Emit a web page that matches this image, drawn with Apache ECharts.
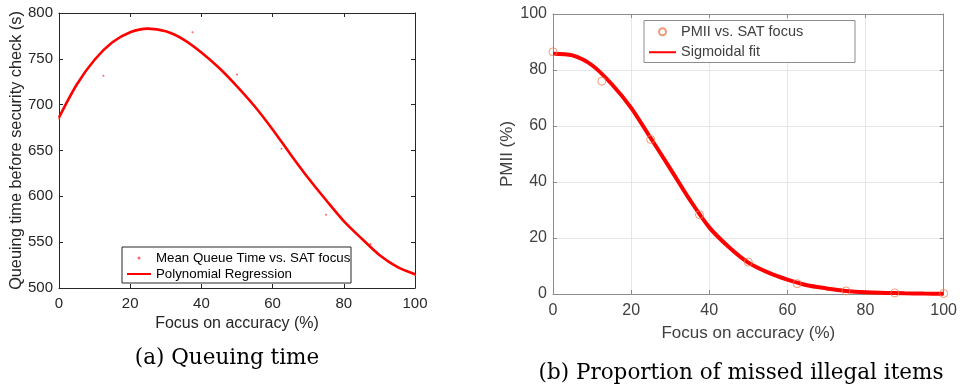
<!DOCTYPE html>
<html>
<head>
<meta charset="utf-8">
<script src="https://cdn.jsdelivr.net/npm/echarts@6/dist/echarts.min.js"></script>
<style>
  html, body { margin: 0; padding: 0; background: #fff; }
  #chart { width: 960px; height: 387px; }
</style>
</head>
<body>
<div id="chart"></div>
<script>
// focus on accuracy (%) for the measured points and the fitted curves
const focusPoints = [0, 12.5, 25, 37.5, 50, 62.5, 75, 87.5, 100];
const focusFit = [0, 5, 10, 15, 20, 25, 30, 35, 40, 45, 50, 55, 60, 65, 70, 75, 80, 85, 90, 95, 100];

// (a) queuing time (s)
const queueMean = [685, 731.5, 783.5, 779, 733, 652, 580, 548, 514];
const queueFit = [686, 722, 749, 768, 779, 783, 780, 771, 757, 740, 720, 698, 673, 646, 620, 596, 573, 554, 536, 523, 515];

// (b) PMII (%)
const pmiiPoints = [86.5, 76, 55.2, 28.3, 11.4, 3.7, 1.1, 0.4, 0.2];
const pmiiFit = [85.8, 85.2, 81.7, 75, 66.5, 55.7, 44.8, 33.7, 23.8, 16.8, 11.2, 7.7, 5.1, 3.1, 2, 1.1, 0.6, 0.4, 0.25, 0.15, 0.1];

const zip = (xs, ys) => xs.map((x, i) => [x, ys[i]]);

const chart = echarts.init(document.getElementById('chart'));

const darkA = '#262626';
const frameB = '#8c8c8c';
const textB = '#404040';

// top / right frame axes (ticks only, no labels)
function frameAxis(pos, gridIndex, min, max, interval, color) {
  return {
    type: 'value', position: pos, gridIndex, min, max, interval,
    axisLine: { show: true, onZero: false, lineStyle: { color, width: 1 } },
    axisTick: { show: true, inside: true, length: 4, lineStyle: { color } },
    axisLabel: { show: false },
    splitLine: { show: false }
  };
}

const option = {
  backgroundColor: '#fff',
  animation: false,
  grid: [
    { left: 59, right: 545, top: 13, bottom: 99 },
    { left: 553, right: 14, top: 14, bottom: 93 }
  ],
  xAxis: [
    {
      type: 'value', gridIndex: 0, min: 0, max: 100, interval: 20,
      name: 'Focus on accuracy (%)', nameLocation: 'middle', nameGap: 26,
      nameTextStyle: { fontFamily: 'Liberation Sans', fontSize: 16, color: darkA },
      axisLine: { onZero: false, lineStyle: { color: darkA } },
      axisTick: { inside: true, length: 4, lineStyle: { color: darkA } },
      axisLabel: { margin: 8, fontFamily: 'Liberation Sans', fontSize: 15, color: darkA },
      splitLine: { show: false }
    },
    frameAxis('top', 0, 0, 100, 20, darkA),
    {
      type: 'value', gridIndex: 1, min: 0, max: 100, interval: 20,
      name: 'Focus on accuracy (%)', nameLocation: 'middle', nameGap: 31,
      nameTextStyle: { fontFamily: 'Liberation Sans', fontSize: 17, color: textB },
      axisLine: { onZero: false, lineStyle: { color: frameB } },
      axisTick: { inside: true, length: 4, lineStyle: { color: frameB } },
      axisLabel: { margin: 9, fontFamily: 'Liberation Sans', fontSize: 16, color: textB },
      splitLine: { show: true, lineStyle: { color: '#e6e6e6' } }
    },
    frameAxis('top', 1, 0, 100, 20, frameB)
  ],
  yAxis: [
    {
      type: 'value', gridIndex: 0, min: 500, max: 800, interval: 50,
      name: 'Queuing time before security check (s)', nameLocation: 'middle', nameGap: 33,
      nameTextStyle: { fontFamily: 'Liberation Sans', fontSize: 16.3, color: darkA },
      axisLine: { show: true, onZero: false, lineStyle: { color: darkA } },
      axisTick: { show: true, inside: true, length: 4, lineStyle: { color: darkA } },
      axisLabel: { margin: 6, fontFamily: 'Liberation Sans', fontSize: 15, color: darkA },
      splitLine: { show: false }
    },
    frameAxis('right', 0, 500, 800, 50, darkA),
    {
      type: 'value', gridIndex: 1, min: 0, max: 100, interval: 20,
      name: 'PMII (%)', nameLocation: 'middle', nameGap: 37,
      nameTextStyle: { fontFamily: 'Liberation Sans', fontSize: 17, color: textB },
      axisLine: { show: true, onZero: false, lineStyle: { color: frameB } },
      axisTick: { show: true, inside: true, length: 4, lineStyle: { color: frameB } },
      axisLabel: { margin: 6, fontFamily: 'Liberation Sans', fontSize: 16, color: textB },
      splitLine: { show: true, lineStyle: { color: '#e6e6e6' } }
    },
    frameAxis('right', 1, 0, 100, 20, frameB)
  ],
  legend: [
    {
      orient: 'vertical', left: 126, top: 250, z: 10, padding: 0,
      itemWidth: 24, itemHeight: 3, itemGap: 0,
      textStyle: { fontFamily: 'Liberation Sans', fontSize: 13.3, lineHeight: 16, color: '#000' },
      data: [
        'Mean Queue Time vs. SAT focus',
        { name: 'Polynomial Regression', itemStyle: { opacity: 0 } }
      ]
    },
    {
      orient: 'vertical', left: 648, top: 21.5, z: 10, padding: 0,
      itemWidth: 27, itemHeight: 7, itemGap: 0,
      textStyle: { fontFamily: 'Liberation Sans', fontSize: 14.5, lineHeight: 20.5, color: textB },
      data: [
        'PMII vs. SAT focus',
        { name: 'Sigmoidal fit', itemStyle: { opacity: 0 } }
      ]
    }
  ],
  graphic: [
    { type: 'rect', z: 9, shape: { x: 122, y: 247, width: 229, height: 36 },
      style: { fill: '#fff', stroke: darkA, lineWidth: 1 } },
    { type: 'rect', z: 9, shape: { x: 644, y: 20.5, width: 211, height: 42 },
      style: { fill: '#fff', stroke: frameB, lineWidth: 1 } },
    { type: 'text', x: 227, y: 358,
      style: { text: '(a) Queuing time', fontFamily: 'DejaVu Serif', fontSize: 21.5,
        fill: '#000', align: 'center', verticalAlign: 'middle' } },
    { type: 'text', x: 741, y: 373,
      style: { text: '(b) Proportion of missed illegal items', fontFamily: 'DejaVu Serif', fontSize: 21.5,
        fill: '#000', align: 'center', verticalAlign: 'middle' } }
  ],
  series: [
    {
      name: 'Mean Queue Time vs. SAT focus', type: 'scatter',
      xAxisIndex: 0, yAxisIndex: 0,
      symbol: 'circle', symbolSize: 2,
      itemStyle: { color: '#ff4040' },
      data: zip(focusPoints, queueMean)
    },
    {
      name: 'Polynomial Regression', type: 'line',
      xAxisIndex: 0, yAxisIndex: 0,
      symbol: 'none', smooth: 0.3,
      lineStyle: { color: '#ff0000', width: 2.6 },
      itemStyle: { color: '#ff0000' },
      data: zip(focusFit, queueFit)
    },
    {
      name: 'PMII vs. SAT focus', type: 'scatter',
      xAxisIndex: 2, yAxisIndex: 2, z: 3,
      symbol: 'circle', symbolSize: 8,
      itemStyle: { color: 'rgba(0,0,0,0)', borderColor: '#ee7f52', borderWidth: 1 },
      data: zip(focusPoints, pmiiPoints)
    },
    {
      name: 'Sigmoidal fit', type: 'line',
      xAxisIndex: 2, yAxisIndex: 2, z: 2,
      symbol: 'none', smooth: 0.3,
      lineStyle: { color: '#ff0000', width: 4 },
      itemStyle: { color: '#ff0000' },
      data: zip(focusFit, pmiiFit)
    }
  ]
};

chart.setOption(option);
</script>
</body>
</html>
